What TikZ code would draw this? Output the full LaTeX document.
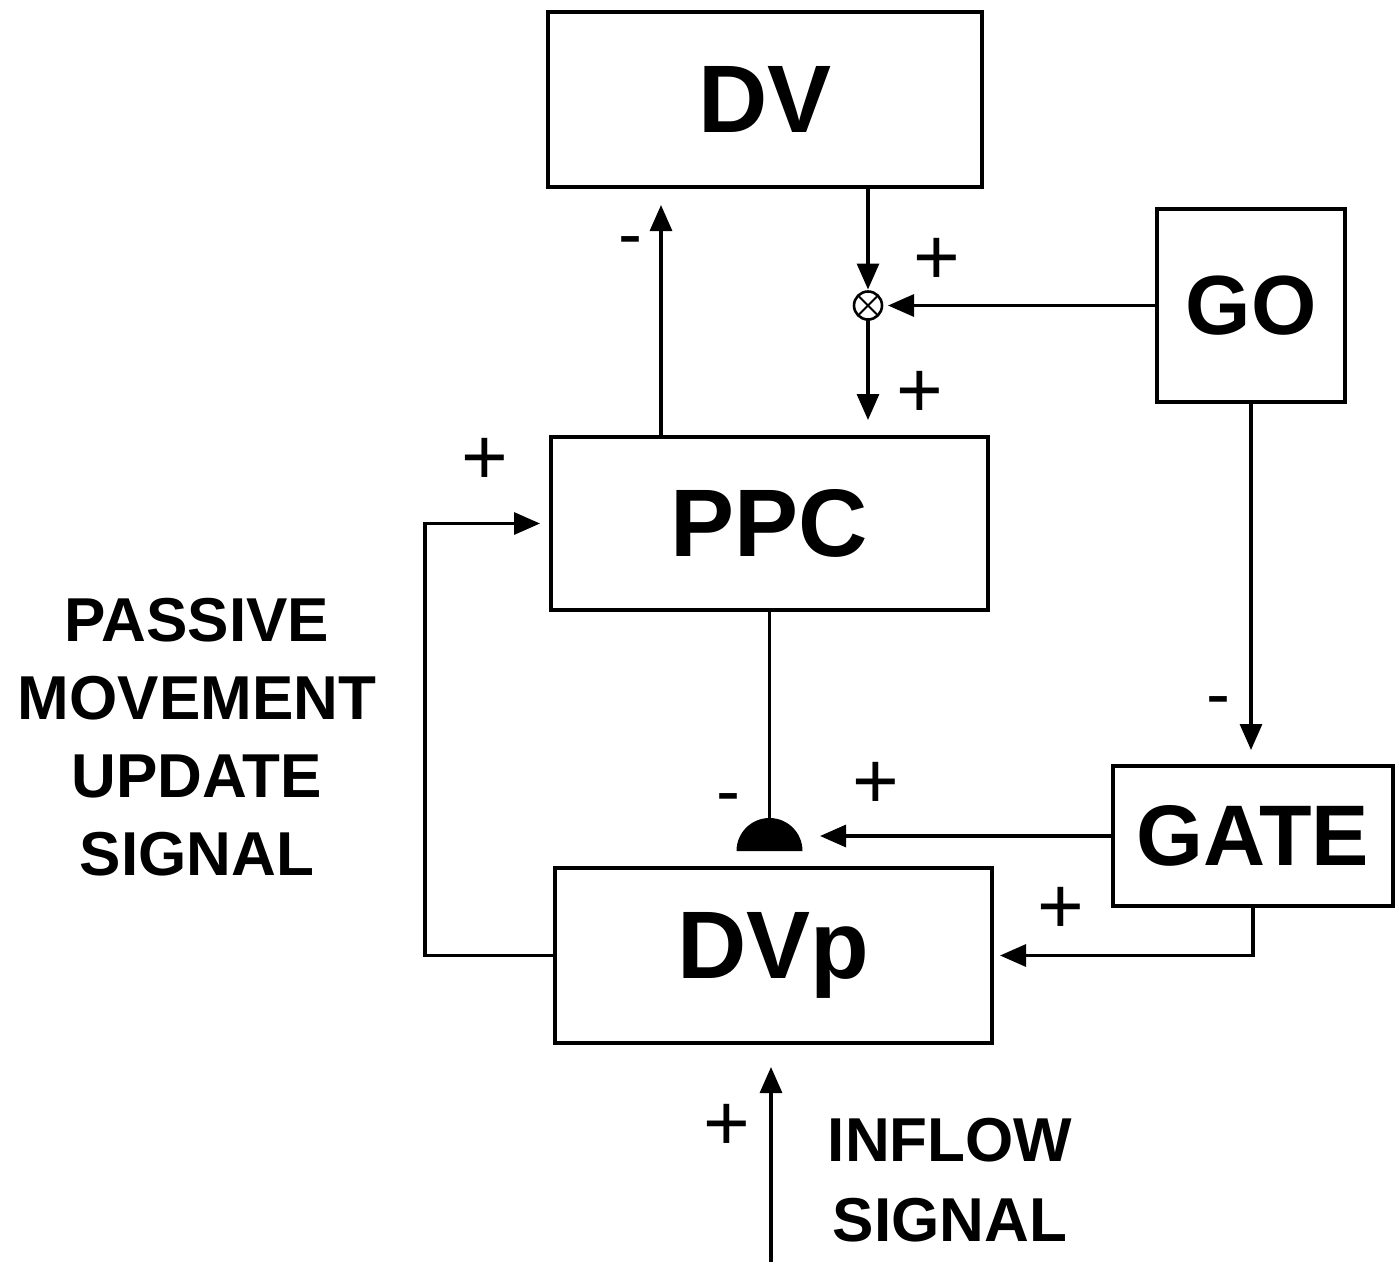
\documentclass[tikz,border=0pt]{standalone}
\usepackage{fontspec}
\setmainfont{Liberation Sans}
\usetikzlibrary{arrows.meta}
\begin{document}
\begin{tikzpicture}[x=1pt,y=-1pt,
  line width=3.2pt,
  box/.style={draw,line width=3.2pt,outer sep=0pt,inner sep=0pt},
  big/.style={font=\fontsize{96}{100}\selectfont\bfseries},
  side/.style={font=\fontsize{62}{78}\selectfont\bfseries,align=center},
  sgn/.style={font=\fontsize{80}{80}\selectfont,inner sep=0pt},
  msgn/.style={font=\fontsize{72}{72}\selectfont,inner sep=0pt},
  arr/.style={-{Triangle[length=26pt,width=22pt]}}]
\useasboundingbox (0,0) rectangle (1395,1267);
% boxes
\node[box,big,minimum width=434pt,minimum height=175pt] (DV) at (765,99.5) {DV};
\node[box,big,minimum width=188pt,minimum height=193pt,font=\fontsize{84}{88}\selectfont\bfseries] (GO) at (1251,305.5) {GO};
\node[box,big,minimum width=437pt,minimum height=173pt] (PPC) at (769.5,523.5) {PPC};
\node[box,big,minimum width=280pt,minimum height=140pt,font=\fontsize{86}{90}\selectfont\bfseries] (GATE) at (1253,836) {GATE};
\node[box,big,minimum width=437pt,minimum height=175pt] (DVp) at (773.5,955.5) {DVp};
% multiplier
\node[draw,circle,line width=2.6pt,minimum size=28pt,inner sep=0pt,outer sep=0pt,
  path picture={\draw[line width=2pt] (path picture bounding box.north west)--(path picture bounding box.south east)
   (path picture bounding box.north east)--(path picture bounding box.south west);}] (mult) at (868,305.5) {};
% half disc
\coordinate (hd) at (769.5,851);
\coordinate (hdtop) at (769.5,818);
\coordinate (hdright) at (803,836);
\fill (hd) ++(-33pt,0) arc[start angle=180,end angle=0,radius=33pt] -- cycle;
% inflow start
\coordinate (inflow) at (771,1262);
% connectors
\draw[arr,shorten >=18pt] ([xshift=110pt]PPC.north west) -- ([xshift=113pt]DV.south west);
\draw[arr,shorten >=2pt] ([xshift=320pt]DV.south west) -- (mult.north);
\draw[arr,shorten >=6pt] (GO.west) -- (mult.east);
\draw[arr,shorten >=17pt] (mult.south) -- (mult.south |- PPC.north);
\draw (PPC.south) -- (hdtop);
\draw[arr,shorten >=17pt] (GATE.west |- hdright) -- (hdright);
\draw[arr,shorten >=16pt] (GO.south) -- (GO.south |- GATE.north);
\draw[arr,shorten >=8pt] (GATE.south) |- (DVp.east);
\draw[arr,shorten >=11pt] (DVp.west) -- ++(-130,0) |- (PPC.west);
\draw[arr,shorten >=24pt] (inflow) -- (inflow |- DVp.south);
% signs
\node[sgn] (p1) at (937,261) {+};
\node[sgn] (p2) at (920,394) {+};
\node[sgn] (p3) at (485,461) {+};
\node[sgn] (p4) at (876,785) {+};
\node[sgn] (p5) at (1061,910) {+};
\node[sgn] (p6) at (727,1127) {+};
\node[msgn] (m1) at (630,248) {-};
\node[msgn] (m2) at (728,805) {-};
\node[msgn] (m3) at (1218,708) {-};
% texts
\node[side] (pm) at (197,737) {PASSIVE\\MOVEMENT\\UPDATE\\SIGNAL};
\node[side,font=\fontsize{62}{80}\selectfont\bfseries] (inf) at (950,1180) {INFLOW\\SIGNAL};
\end{tikzpicture}
\end{document}
